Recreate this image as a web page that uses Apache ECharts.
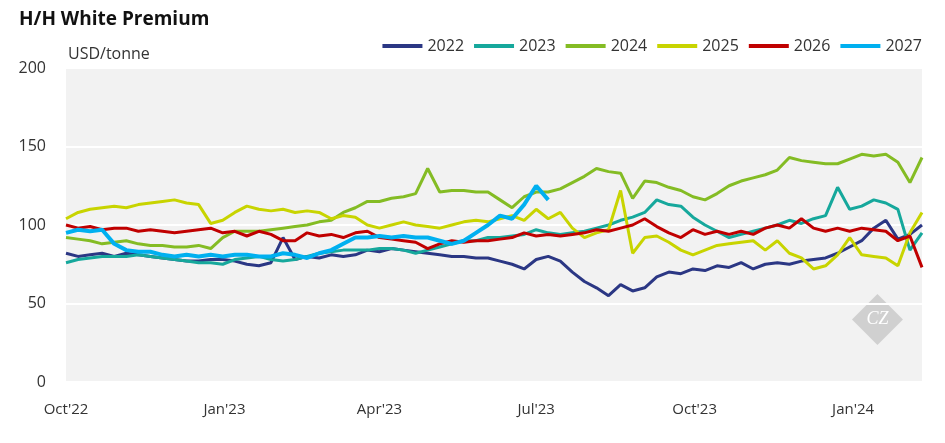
<!DOCTYPE html>
<html><head><meta charset="utf-8">
<script src="https://cdn.jsdelivr.net/npm/echarts@6/dist/echarts.min.js"></script>
<style>html,body{margin:0;padding:0;background:#fff}#c{width:945px;height:443px}</style>
</head><body><div id="c"></div>
<script>
const seriesNames = ['2022','2023','2024','2025','2026','2027'];
const colors = ['#2b3784','#16a89c','#84bc24','#c8d400','#c00000','#00b0f0'];
const tickDays = [0,92,182,273,365,457];
const tickLabels = ["Oct'22","Jan'23","Apr'23","Jul'23","Oct'23","Jan'24"];
const v2022 = [82,80,81,82,80,82,81,80,79,78,77,77,78,78,77,75,74,76,92,78,80,79,81,80,81,84,83,85,84,83,82,81,80,80,79,79,77,75,72,78,80,77,70,64,60,55,62,58,60,67,70,69,72,71,74,73,76,72,75,76,75,77,78,79,82,86,90,98,103,91,94,100];
const v2023 = [76,78,79,80,80,80,81,80,79,78,77,76,76,75,78,79,80,78,77,78,80,82,83,84,84,84,85,85,84,82,84,86,88,90,90,92,92,93,94,97,95,94,95,96,98,100,103,105,108,116,113,112,105,100,96,92,94,96,98,100,103,101,104,106,124,110,112,116,114,110,84,95];
const v2024 = [92,91,90,88,89,90,88,87,87,86,86,87,85,92,96,96,96,97,98,99,100,102,103,108,111,115,115,117,118,120,136,121,122,122,121,121,116,111,118,121,121,123,127,131,136,134,133,117,128,127,124,122,118,116,120,125,128,130,132,135,143,141,140,139,139,142,145,144,145,140,127,143];
const v2025 = [104,108,110,111,112,111,113,114,115,116,114,113,101,103,108,112,110,109,110,108,109,108,104,106,105,100,98,100,102,100,99,98,100,102,103,102,104,106,103,110,104,108,98,92,95,97,122,82,92,93,89,84,81,84,87,88,89,90,84,90,82,79,72,74,81,92,81,80,79,74,95,108];
const v2026 = [100,98,99,97,98,98,96,97,96,95,96,97,98,95,96,93,96,94,90,90,95,93,94,92,95,96,92,91,90,89,85,88,90,89,90,90,91,92,95,93,94,93,94,95,97,96,98,100,104,99,95,92,97,94,96,94,96,94,98,100,98,104,98,96,98,96,98,97,96,90,93,73];
const v2027 = [95,97,96,97,88,84,83,83,81,80,81,80,81,80,81,81,80,80,82,81,79,82,84,88,92,92,93,92,93,92,92,90,88,90,95,100,106,104,113,125,116];
const allValues = [v2022,v2023,v2024,v2025,v2026,v2027];

const chart = echarts.init(document.getElementById('c'));
const series = allValues.map((vals,k)=>({
  name: seriesNames[k], type:'line', showSymbol:false, symbol:'none',
  data: vals.map((v,i)=>[i*7, v]),
  lineStyle:{width: k===5?4:3, color:colors[k]}, itemStyle:{color:colors[k]},
  z: 2+k
}));
chart.setOption({
  animation:false,
  title:{text:'H/H White Premium', left:14, top:5, textStyle:{fontFamily:'Open Sans', fontSize:19, fontWeight:'bold', color:'#111'}},
  legend:{right:18, top:33, itemWidth:40, itemHeight:4, itemGap:10, icon:'rect',
    textStyle:{fontFamily:'Open Sans', fontSize:16, color:'#333'}, data:seriesNames},
  grid:{left:66, right:23, top:68, bottom:61, show:true, backgroundColor:'#f2f2f2', borderWidth:0},
  xAxis:{type:'value', min:0, max:497,
    axisLine:{show:false}, axisTick:{show:false}, splitLine:{show:false},
    axisLabel:{customValues:tickDays, fontFamily:'Open Sans', fontSize:15, color:'#333', margin:20,
      formatter:(v)=>{const i=tickDays.indexOf(v);return i>=0?tickLabels[i]:'';}}},
  yAxis:{type:'value', min:0, max:200, interval:50, name:'USD/tonne', nameLocation:'end', nameGap:6,
    nameTextStyle:{fontFamily:'Open Sans', fontSize:16, color:'#333', align:'left', padding:[0,0,0,2]},
    axisLine:{show:false}, axisTick:{show:false},
    splitLine:{lineStyle:{color:'#ffffff', width:2}},
    axisLabel:{fontFamily:'Open Sans', fontSize:16, color:'#333', margin:20}},
  graphic:[{type:'group', left:852, top:294, children:[
    {type:'rect', shape:{x:-18,y:-18,width:36,height:36}, rotation:Math.PI/4, x:25, y:25, style:{fill:'#d0d0d0'}},
    {type:'text', x:25, y:25, style:{text:'CZ', fill:'#fff', font:'italic 18px serif', align:'center', verticalAlign:'middle'}}
  ]}],
  series
});
</script></body></html>
